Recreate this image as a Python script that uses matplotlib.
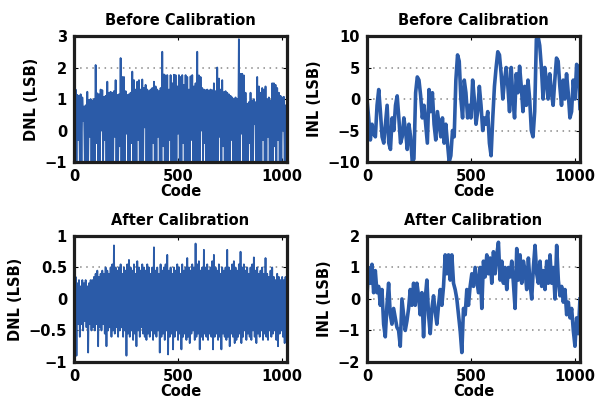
import matplotlib
matplotlib.use("Agg")
import matplotlib.pyplot as plt
import matplotlib.ticker as ticker
import numpy as np

# DNL before calibration, upper and lower swing of each group of 8 codes
dnl_before_hi = [1.34, 1.3, 1.13, 1.1, 1.15, 1.05, 0.76, 0.8, 1.23, 0.97,
                 1.0, 0.95, 1.0, 2.08, 1.18, 1.15, 1.3, 1.28, 1.07, 1.1,
                 1.55, 1.2, 1.23, 1.2, 1.25, 1.6, 1.13, 1.15, 2.3, 1.7,
                 1.7, 1.25, 1.13, 1.15, 1.2, 1.87, 1.6, 1.3, 1.55, 1.6,
                 1.3, 1.62, 1.35, 1.45, 1.3, 1.25, 1.3, 1.35, 1.55, 1.4,
                 1.3, 1.25, 1.35, 2.5, 1.78, 1.75, 1.76, 1.3, 1.76, 1.5,
                 1.77, 1.76, 1.4, 1.76, 1.7, 1.76, 1.45, 1.76, 1.7, 1.3,
                 1.72, 1.76, 1.4, 1.5, 2.5, 1.75, 1.7, 1.35, 1.3, 1.28,
                 1.3, 1.27, 1.3, 1.28, 1.5, 1.25, 2.0, 1.65, 1.3, 1.6,
                 1.22, 1.25, 1.2, 1.15, 1.1, 1.05, 1.0, 1.05, 1.0, 2.9,
                 1.8, 1.8, 1.75, 1.2, 0.85, 0.9, 1.2, 0.95, 1.0, 0.9,
                 1.7, 1.4, 1.2, 1.35, 1.3, 1.4, 1.0, 1.05, 0.95, 1.5,
                 1.5, 1.45, 1.35, 1.2, 1.1, 1.05, 1.07, 0.8]
dnl_before_lo = [-1, -1, -0.3, -1, -1, 0.3, -1, -1, -1, -0.2,
                 -1, -1, -1, -0.4, -1, -1, 0.0, -1, -0.3, -1,
                 -1, -1, -1, -1, -0.2, -1, -1, -0.5, -1, -1,
                 -1, -0.1, -1, -1, -0.4, -1, -1, -1, -0.3, -1,
                 -1, -1, 0.1, -1, -1, -1, -1, -0.4, -1, -1,
                 -0.2, -1, -1, -0.5, -1, -1, -1, -0.3, -1, -1,
                 -1, -1, -0.1, -1, -1, -0.4, -1, -1, -1, -1,
                 -0.3, -1, -1, -1, -1, -1, 0.0, -1, -0.4, -1,
                 -1, -1, -1, -1, -1, -1, -1, -0.2, -1, -0.5,
                 -1, -1, -1, -1, -0.3, -1, -1, -1, -1, -1,
                 -0.1, -1, -1, -1, -1, -0.4, -1, -1, 0.2, -1,
                 -1, -1, -1, -0.3, -1, -1, -0.2, -1, -1, -1,
                 -0.5, -1, -0.3, -1, -1, 0.0, -1, -1]

inl_before = [0, -3, -6.5, -4, -5.5, -6, -1, 1.5, -2, -6,
              -7, -4, -1, -7, -8, -3, -5, -1, 0.5, -3,
              -7, -6, -3, -5, -8, -4, -6, -10, -9.5, 1,
              3.5, 3, 0.5, -3, -1, -4, -7, 1.5, -2, 1,
              -4, -6.5, -2, -4, -6, -3, -7, -4, -7, -10,
              -9, -5, -6, 3, 7, 6, 0, -3, 3, 1,
              -3, -1, -3, 3, 0, -4, -2, 2, -1, -5,
              -3, -4, -2, -7, -9, -3, 2, 5, 7.5, 7,
              4, 0, 3, 5, 2, -2, 5, 0, -3, 4,
              1, 5.2, 2, -2, 2, -1, 3, 0, -5, -6,
              -2, 9.5, 10, 8.5, 5, 0, 5, 3, 0, 4,
              1, -1, 3, 6.5, 6, 2, -1, 3, 0, 4,
              1, -3, -2, 3, 0, 5.5, 5, -1.5]

dnl_after_hi = [0.3, 0.35, 0.25, 0.3, 0.2, 0.3, 0.25, 0.3, 0.2, 0.25,
                0.3, 0.3, 0.35, 0.4, 0.45, 0.35, 0.4, 0.45, 0.4, 0.5,
                0.45, 0.4, 0.5, 0.55, 0.85, 0.5, 0.45, 0.5, 0.55, 0.4,
                0.5, 0.45, 0.55, 0.62, 0.5, 0.45, 0.55, 0.4, 0.6, 0.5,
                0.45, 0.55, 0.5, 0.45, 0.55, 0.5, 0.4, 0.5, 0.82, 0.45,
                0.5, 0.4, 0.55, 0.45, 0.5, 0.55, 0.7, 0.45, 0.5, 0.4,
                0.5, 0.45, 0.55, 0.5, 0.4, 0.55, 0.45, 0.5, 0.65, 0.5,
                0.45, 0.55, 0.5, 0.88, 0.55, 0.6, 0.45, 0.5, 0.78, 0.5,
                0.55, 0.45, 0.5, 0.6, 0.7, 0.5, 0.45, 0.55, 0.4, 0.5,
                0.45, 0.5, 0.78, 0.5, 0.45, 0.55, 0.6, 0.5, 0.45, 0.55,
                0.75, 0.5, 0.55, 0.45, 0.5, 0.4, 0.5, 0.55, 0.66, 0.45,
                0.5, 0.4, 0.45, 0.5, 0.4, 0.65, 0.4, 0.35, 0.45, 0.5,
                0.35, 0.3, 0.4, 0.35, 0.3, 0.35, 0.3, 0.35]
dnl_after_lo = [-0.5, -0.9, -0.4, -0.6, -0.4, -0.5, -0.35, -0.45, -0.85, -0.4,
                -0.5, -0.45, -0.5, -0.4, -0.75, -0.45, -0.5, -0.4, -0.55, -0.75,
                -0.5, -0.45, -0.6, -0.5, -0.55, -0.45, -0.6, -0.5, -0.45, -0.6,
                -0.5, -0.9, -0.55, -0.6, -0.5, -0.65, -0.55, -0.75, -0.5, -0.6,
                -0.45, -0.55, -0.6, -0.65, -0.55, -0.6, -0.5, -0.65, -0.55, -0.6,
                -0.5, -0.85, -0.6, -0.55, -0.65, -0.5, -0.88, -0.6, -0.55, -0.8,
                -0.6, -0.5, -0.65, -0.55, -0.8, -0.6, -0.55, -0.65, -0.6, -0.7,
                -0.55, -0.5, -0.65, -0.6, -0.55, -0.8, -0.6, -0.65, -0.55, -0.6,
                -0.65, -0.55, -0.6, -0.8, -0.6, -0.55, -0.65, -0.6, -0.8, -0.55,
                -0.6, -0.65, -0.6, -0.75, -0.55, -0.6, -0.7, -0.65, -0.6, -0.55,
                -0.7, -0.6, -0.5, -0.65, -0.55, -0.6, -0.65, -0.5, -0.6, -0.7,
                -0.55, -0.6, -0.5, -0.65, -0.55, -0.6, -0.65, -0.5, -0.6, -0.55,
                -0.5, -0.65, -0.75, -0.55, -0.5, -0.6, -0.7, -0.3]

inl_after = [0.1, 1.0, 0.5, 1.1, 0.2, 0.9, 0.2, 0.4, -0.2, 0.3,
             -0.8, -1.2, -0.2, 0.5, -0.5, -0.8, -0.3, -0.6, -0.9, -1.0,
             -1.5, 0.0, -0.5, -1.0, -0.7, -0.3, 0.3, -0.2, 0.5, -0.2,
             0.5, 0.1, -0.5, 0.2, -1.2, 0.0, 0.6, -0.5, -1.1, -0.3,
             0.1, -0.4, -0.8, -0.2, 0.3, -0.2, 0.4, 1.4, 0.8, 1.4,
             0.6, 1.4, 0.5, 0.3, 0.0, -0.5, -1.0, -1.7, -0.3, -0.5,
             0.3, -0.2, 0.4, 0.8, 0.4, 1.0, 0.6, 0.2, 1.0, -0.3,
             1.2, 0.7, 1.4, 0.8, 1.3, 0.5, 1.5, 0.8, 1.4, 1.8,
             0.6, 1.2, 0.5, 1.0, 0.3, 1.0, 0.7, 1.2, 0.5, -0.3,
             1.6, 0.6, 1.4, 0.5, 1.2, 0.9, 0.3, 1.3, 0.5, 0.0,
             1.0, 1.7, 0.8, 0.5, 1.2, 0.4, 0.9, 0.3, 1.2, 0.5,
             1.4, 0.5, 1.0, 0.0, 1.7, 0.6, 0.1, 0.4, -0.1, 0.3,
             -0.5, -0.1, -0.6, -0.3, -1.0, -1.5, -0.6, -1.1, 0.0]

titles = ["Before Calibration", "Before Calibration", "After Calibration", "After Calibration"]
ylabels = ["DNL (LSB)", "INL (LSB)", "DNL (LSB)", "INL (LSB)"]
yticks_all = [[-1, 0, 1, 2, 3], [-10, -5, 0, 5, 10], [-1, -0.5, 0, 0.5, 1], [-2, -1, 0, 1, 2]]
xticks = [0, 500, 1000]
n_codes = 1023

BLUE = "#2b5ba8"


def zigzag(hi, lo):
    """
        Interleave upper and lower swing of each code group.
    """
    y = np.empty(2 * len(hi))
    y[0::2] = hi
    y[1::2] = lo
    x = np.arange(len(y)) * 1024.0 / len(y)
    return x, y


def fmt(v, pos):
    return ("%g" % v).replace("-", "\u2212")


fig = plt.figure(figsize=(6.03, 3.97), dpi=100)
plt.rcParams["font.family"] = ["DejaVu Sans"]
plt.rcParams["font.weight"] = "bold"

# axes boxes in figure fractions
boxes = [[0.1227, 0.5919, 0.3532, 0.3174], [0.6086, 0.5919, 0.3532, 0.3174],
         [0.1227, 0.0882, 0.3532, 0.3174], [0.6086, 0.0882, 0.3532, 0.3174]]

series = [zigzag(dnl_before_hi, dnl_before_lo),
          (np.linspace(0, n_codes, len(inl_before)), np.array(inl_before)),
          zigzag(dnl_after_hi, dnl_after_lo),
          (np.linspace(0, n_codes, len(inl_after)), np.array(inl_after))]

for k in range(4):
    ax = fig.add_axes(boxes[k])
    x, y = series[k]
    lw = 1.3 if k % 2 == 0 else 2.6
    ax.plot(x, y, color=BLUE, lw=lw, zorder=3)
    yt = yticks_all[k]
    ax.set_xlim(0, n_codes)
    ax.set_ylim(yt[0], yt[-1])
    ax.set_yticks(yt)
    ax.set_xticks(xticks)
    ax.yaxis.set_major_formatter(ticker.FuncFormatter(fmt))
    ax.xaxis.set_major_formatter(ticker.FuncFormatter(fmt))
    for v in yt[1:-1]:
        ax.axhline(v, color="#888888", lw=1.1, ls=(0, (1, 3)), zorder=1)
    for s in ax.spines.values():
        s.set_linewidth(2.3)
        s.set_color("#1e1e1e")
        s.set_zorder(5)
    ax.tick_params(direction="in", length=3, width=0.8, labelsize=10.5, pad=5,
                   top=True, right=True)
    for lab in ax.get_xticklabels() + ax.get_yticklabels():
        lab.set_fontweight("bold")
    ax.set_title(titles[k], fontsize=10.5, fontweight="bold", pad=8)
    ax.set_xlabel("Code", fontsize=10.5, fontweight="bold", labelpad=0)
    ax.set_ylabel(ylabels[k], fontsize=10.5, fontweight="bold", labelpad=4)

plt.savefig("out.png", dpi=100)
